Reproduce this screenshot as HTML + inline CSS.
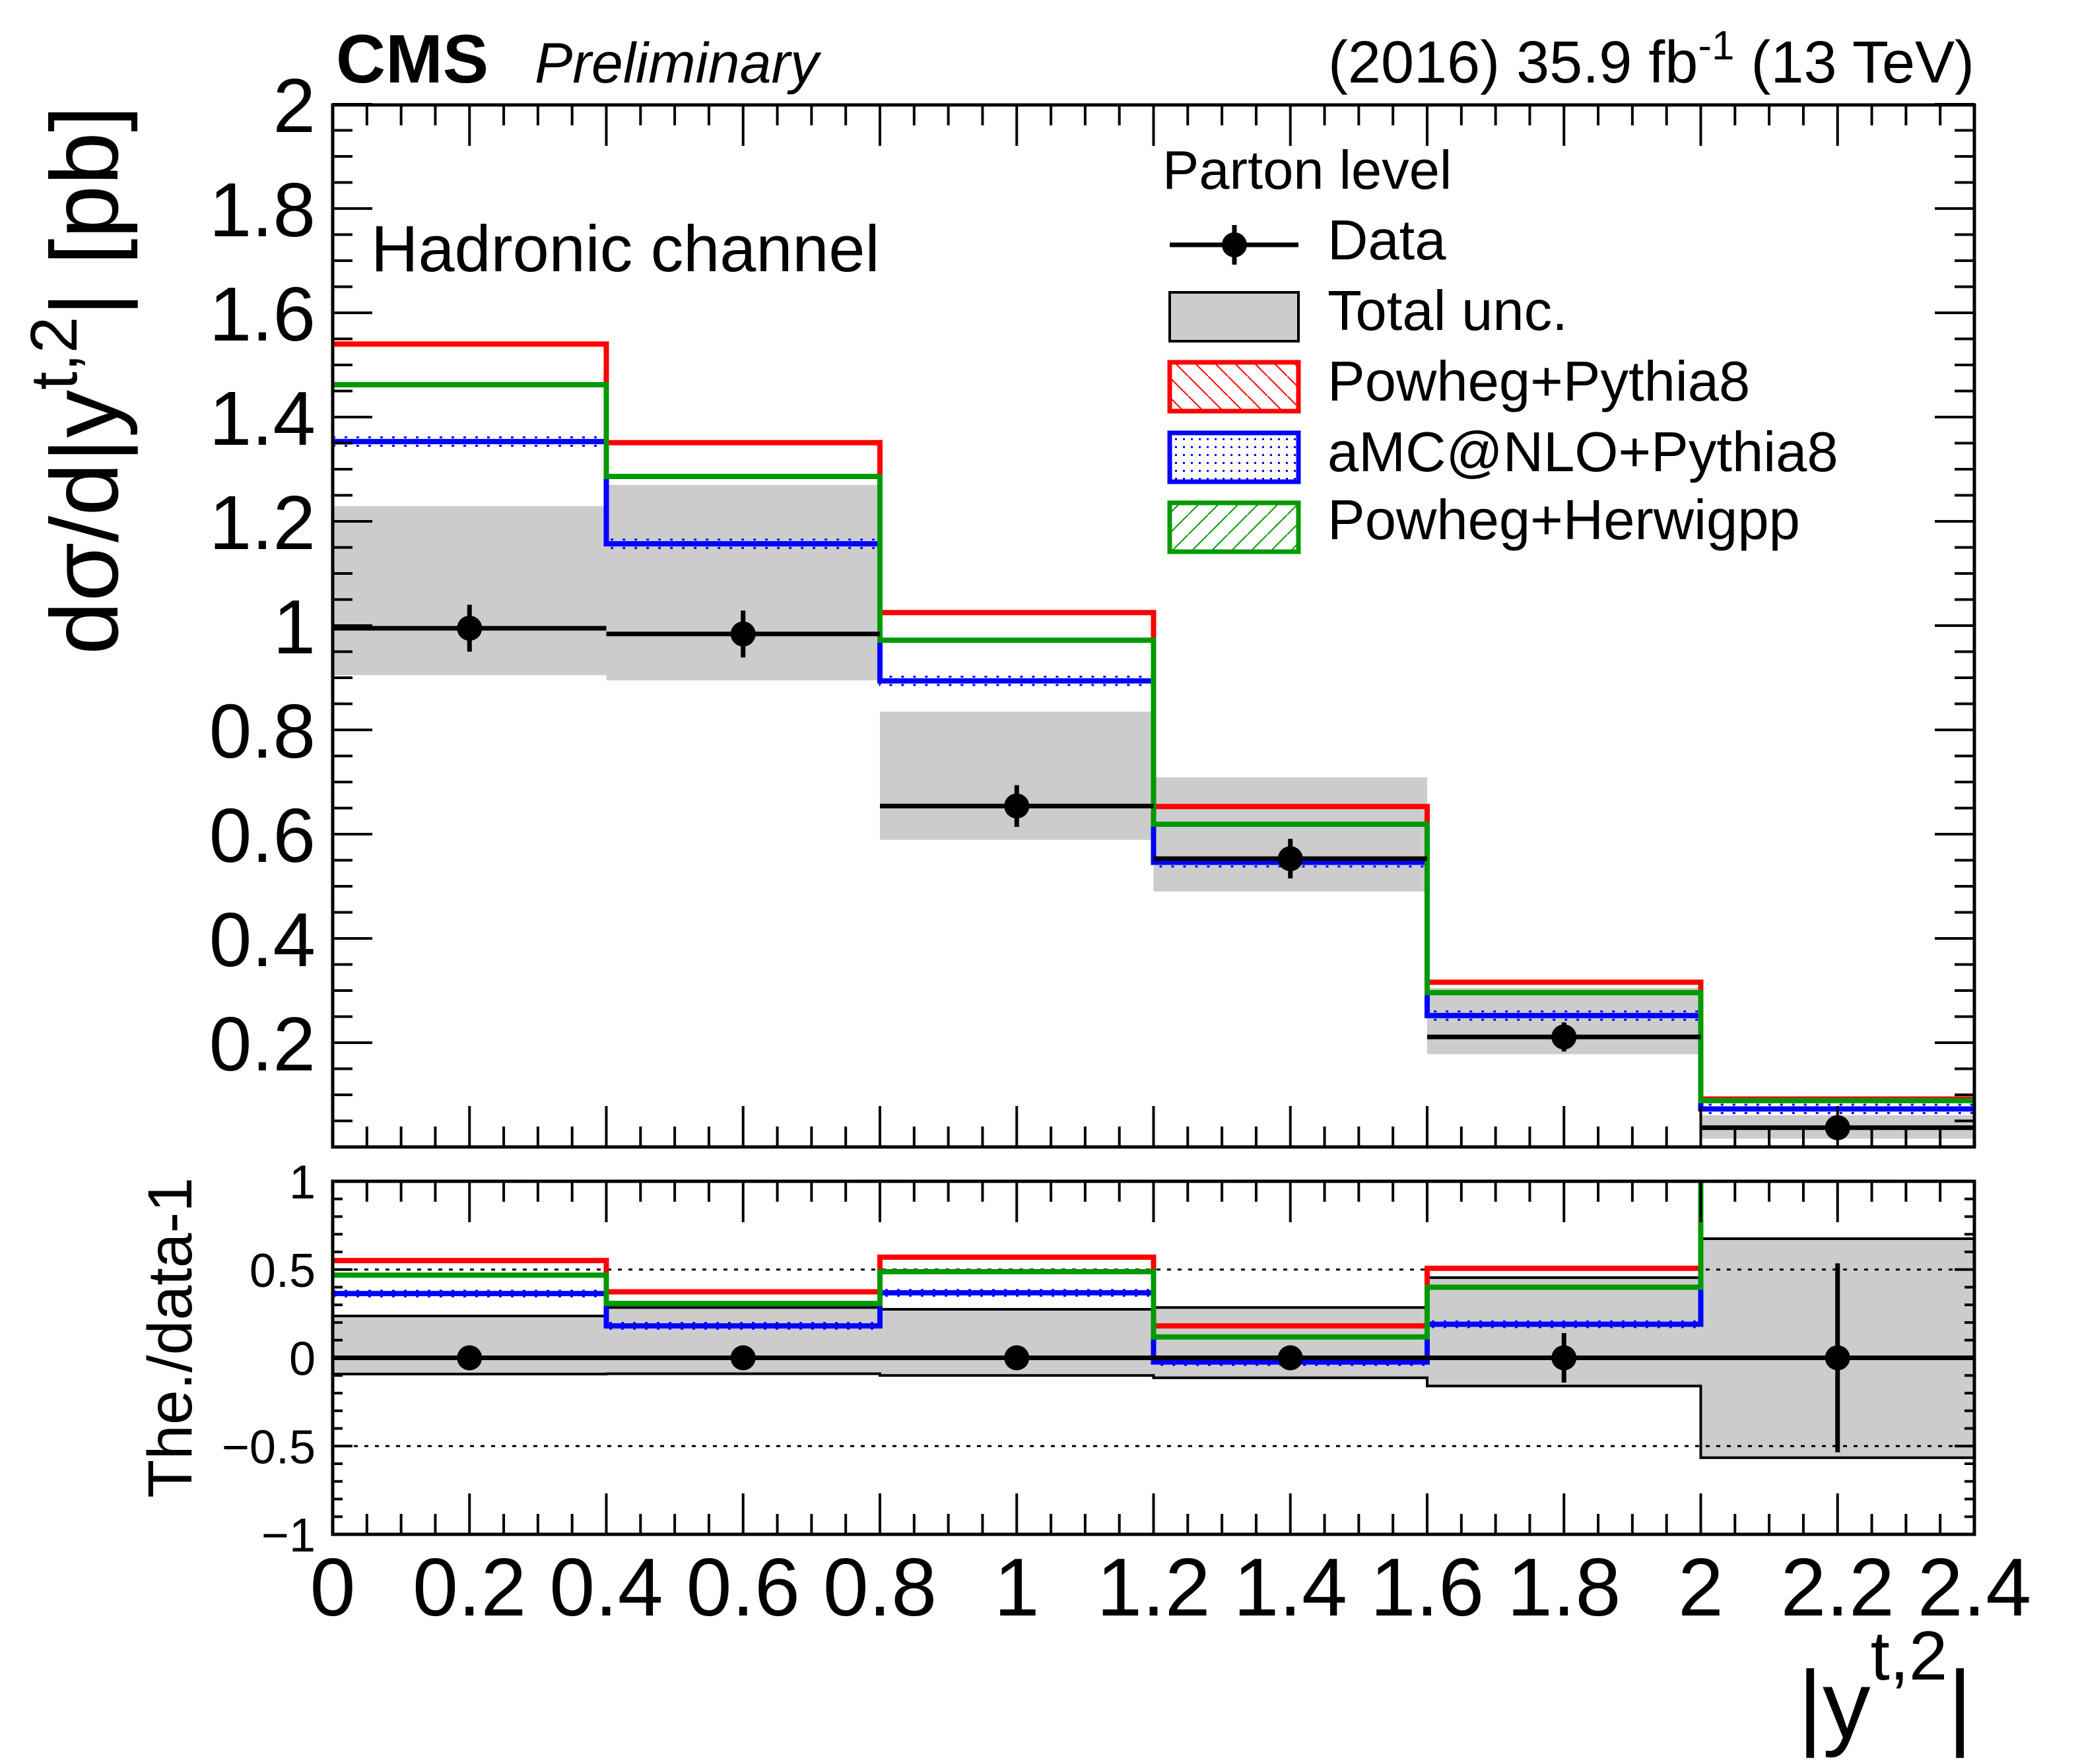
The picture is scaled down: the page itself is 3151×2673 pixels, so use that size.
<!DOCTYPE html>
<html><head><meta charset="utf-8"><style>
html,body{margin:0;padding:0;background:#fff;}
svg{display:block;font-family:"Liberation Sans",Arial,sans-serif;}
</style></head><body>
<svg id="c" xmlns="http://www.w3.org/2000/svg" width="3151" height="2673" viewBox="0 0 3151 2673">
<defs>
<clipPath id="clipTop"><rect x="504" y="159" width="2487" height="1579"/></clipPath>
<clipPath id="clipBot"><rect x="504" y="1790" width="2487" height="535"/></clipPath>
<pattern id="hatchRed" patternUnits="userSpaceOnUse" width="30" height="30"><path d="M0,0 L30,30" stroke="#ff0000" stroke-width="2"/></pattern>
<pattern id="hatchGreen" patternUnits="userSpaceOnUse" width="30" height="30"><path d="M0,30 L30,0" stroke="#009900" stroke-width="2"/></pattern>
<pattern id="dotBlue" patternUnits="userSpaceOnUse" width="12" height="12"><rect x="4" y="4" width="3" height="3" fill="#0000ff"/></pattern>
</defs>
<g id="g-top"></g>
<g id="g-bot"></g>
<g id="g-ax"></g>
<text x="509" y="125" font-size="104" font-weight="bold">CMS</text>
<text x="810" y="125" font-size="86" font-style="italic">Preliminary</text>
<text x="2991" y="125" font-size="90" text-anchor="end">(2016) 35.9 fb<tspan dy="-35" font-size="62">-1</tspan><tspan dy="35"> (13 TeV)</tspan></text>
<text x="562" y="411" font-size="99">Hadronic channel</text>
<text transform="translate(178,576) rotate(-90)" font-size="145" text-anchor="middle">dσ/d|y<tspan dy="-62" font-size="100">t,2</tspan><tspan dy="62">| [pb]</tspan></text>
<text transform="translate(290,2027) rotate(-90)" font-size="95" text-anchor="middle">The./data-1</text>
<text x="2988" y="2633" font-size="145" text-anchor="end">|y<tspan dy="-88" font-size="105">t,2</tspan><tspan dy="88">|</tspan></text>
<g>
<text x="1761" y="286" font-size="83">Parton level</text>
<g>
<line x1="1772" y1="371" x2="1967" y2="371" stroke="#000" stroke-width="7"/>
<line x1="1870" y1="341" x2="1870" y2="401" stroke="#000" stroke-width="7"/>
<circle cx="1870" cy="371" r="19" fill="#000"/>
<text x="2011" y="393" font-size="85">Data</text></g>
<g>
<rect x="1772" y="443" width="195" height="74" fill="#cccccc" stroke="#000" stroke-width="4"/>
<text x="2011" y="500" font-size="85">Total unc.</text></g>
<g>
<rect x="1772" y="549" width="195" height="74" fill="url(#hatchRed)" stroke="#ff0000" stroke-width="7"/>
<text x="2011" y="607" font-size="85">Powheg+Pythia8</text></g>
<g>
<rect x="1772" y="656" width="195" height="74" fill="url(#dotBlue)" stroke="#0000ff" stroke-width="7"/>
<text x="2011" y="714" font-size="85">aMC@NLO+Pythia8</text></g>
<g>
<rect x="1772" y="762" width="195" height="74" fill="url(#hatchGreen)" stroke="#009900" stroke-width="7"/>
<text x="2011" y="817" font-size="85">Powheg+Herwigpp</text></g>
</g>
</svg>
<script>
// ---- data ----
const edges = [0, 0.4, 0.8, 1.2, 1.6, 2.0, 2.4];
const dataVals = [0.995, 0.984, 0.654, 0.553, 0.211, 0.037];
const dataErr = [0.045, 0.045, 0.04, 0.038, 0.028, 0.02];
const uncLo = [0.905, 0.895, 0.589, 0.49, 0.178, 0.016];
const uncHi = [1.229, 1.27, 0.835, 0.709, 0.305, 0.061];
const powhegPythia = [1.54, 1.351, 1.025, 0.653, 0.316, 0.092];
const amcPythia = [1.353, 1.157, 0.894, 0.546, 0.252, 0.073];
const powhegHerwig = [1.462, 1.286, 0.972, 0.619, 0.296, 0.089];
const ratioPowhegPythia = [0.551, 0.374, 0.57, 0.181, 0.507, 1.5];
const ratioAmc = [0.364, 0.181, 0.368, -0.024, 0.19, 1.2];
const ratioPowhegHerwig = [0.468, 0.308, 0.488, 0.118, 0.40, 1.4];
const ratioUncLo = [-0.092, -0.09, -0.10, -0.113, -0.16, -0.566];
const ratioUncHi = [0.237, 0.285, 0.275, 0.285, 0.454, 0.675];
const ratioData = [0, 0, 0, 0, 0, 0];
const ratioErr = [0.03, 0.03, 0.03, 0.03, 0.14, 0.535];
const yTickLabels = ["0.2","0.4","0.6","0.8","1","1.2","1.4","1.6","1.8","2"];
const ratioTickLabels = ["1","0.5","0","\u22120.5","\u22121"];
const xTickLabels = ["0","0.2","0.4","0.6","0.8","1","1.2","1.4","1.6","1.8","2","2.2","2.4"];

const NS = "http://www.w3.org/2000/svg";
const X0 = 504, X1 = 2991;
const xs = v => X0 + (v - 0) / 2.4 * (X1 - X0);
const yTop = v => 1738 - v * 790;
const yBot = v => 2057.5 - v * 267.5;
function mk(tag, attrs, parent) {
  const e = document.createElementNS(NS, tag);
  for (const k in attrs) e.setAttribute(k, attrs[k]);
  parent.appendChild(e);
  return e;
}
const gTop = document.getElementById('g-top');
const gBot = document.getElementById('g-bot');
const gAx = document.getElementById('g-ax');
const cTop = mk('g', {'clip-path': 'url(#clipTop)'}, gTop);
const cBot = mk('g', {'clip-path': 'url(#clipBot)'}, gBot);

function stepPath(vals, yf) {
  let d = 'M' + xs(edges[0]) + ',' + yf(vals[0]);
  for (let i = 0; i < vals.length; i++) {
    if (i > 0) d += ' V' + yf(vals[i]);
    d += ' H' + xs(edges[i + 1]);
  }
  return d;
}
function drawPanel(g, yf, lo, hi, models, dv, de, outline, isTop) {
  for (let i = 0; i < lo.length; i++) {
    const r = mk('rect', {x: xs(edges[i]), y: yf(hi[i]), width: xs(edges[i+1]) - xs(edges[i]), height: yf(lo[i]) - yf(hi[i]), fill: '#cccccc'}, g);
    
    
  }
  if (outline) {
    const p1 = mk('path', {d: stepPath(hi, yf), fill: 'none', stroke: '#000', 'stroke-width': 4}, g);
    
    
    const p2 = mk('path', {d: stepPath(lo, yf), fill: 'none', stroke: '#000', 'stroke-width': 4}, g);
    
    
  }
  if (!isTop) {
    for (const v of [0.5, -0.5]) {
      const l = mk('line', {x1: X0, x2: X1, y1: yf(v), y2: yf(v), stroke: '#000', 'stroke-width': 3, 'stroke-dasharray': '6 10'}, g);
      
      
    }
  }
  for (const m of models) {
    if (m.dots) {
      for (const off of [0.008, -0.008]) {
        const shifted = m.vals.map(v => v + off * (isTop ? 1 : 2));
        const dp = mk('path', {d: stepPath(shifted, yf), fill: 'none', stroke: m.color, 'stroke-width': 3, 'stroke-dasharray': '4 14'}, g);
        
        
      }
    }
    const p = mk('path', {d: stepPath(m.vals, yf), fill: 'none', stroke: m.color, 'stroke-width': 8}, g);
    
    
  }
  for (let i = 0; i < dv.length; i++) {
    const cx = xs((edges[i] + edges[i+1]) / 2);
    const l = mk('line', {x1: xs(edges[i]), x2: xs(edges[i+1]), y1: yf(dv[i]), y2: yf(dv[i]), stroke: '#000', 'stroke-width': 7}, g);
    
    
    const e = mk('line', {x1: cx, x2: cx, y1: yf(dv[i] + de[i]), y2: yf(dv[i] - de[i]), stroke: '#000', 'stroke-width': 7}, g);
    
    
    const c = mk('circle', {cx: cx, cy: yf(dv[i]), r: 19, fill: '#000'}, g);
    
    
  }
}
drawPanel(cTop, yTop, uncLo, uncHi, [
  {vals: powhegPythia, color: '#ff0000', name: 'powheg-pythia8-hist'},
  {vals: amcPythia, color: '#0000ff', name: 'amcnlo-pythia8-hist', dots: true},
  {vals: powhegHerwig, color: '#009900', name: 'powheg-herwigpp-hist'}
], dataVals, dataErr, false, true);
drawPanel(cBot, yBot, ratioUncLo, ratioUncHi, [
  {vals: ratioPowhegPythia, color: '#ff0000', name: 'ratio-powheg-pythia8'},
  {vals: ratioAmc, color: '#0000ff', name: 'ratio-amcnlo-pythia8', dots: true},
  {vals: ratioPowhegHerwig, color: '#009900', name: 'ratio-powheg-herwigpp'}
], ratioData, ratioErr, true, false);

// frames
const f1 = mk('rect', {x: X0, y: 159, width: X1 - X0, height: 1579, fill: 'none', stroke: '#000', 'stroke-width': 5}, gAx);


const f2 = mk('rect', {x: X0, y: 1790, width: X1 - X0, height: 535, fill: 'none', stroke: '#000', 'stroke-width': 5}, gAx);



function xTicks(top, bot) {
  for (let i = 0; i <= 48; i++) {
    const x = xs(i * 0.05);
    const L = (i % 4 === 0) ? 62 : 31;
    const a = mk('line', {x1: x, x2: x, y1: bot, y2: bot - L, stroke: '#000', 'stroke-width': 4}, gAx);
    
    
    const b = mk('line', {x1: x, x2: x, y1: top, y2: top + L, stroke: '#000', 'stroke-width': 4}, gAx);
    
    
  }
}
xTicks(159, 1738);
xTicks(1790, 2325);
for (let i = 0; i <= 40; i++) {
  const y = yTop(i * 0.05);
  const L = (i % 4 === 0) ? 60 : 30;
  const a = mk('line', {x1: X0, x2: X0 + L, y1: y, y2: y, stroke: '#000', 'stroke-width': 4}, gAx);
  
  
  const b = mk('line', {x1: X1, x2: X1 - L, y1: y, y2: y, stroke: '#000', 'stroke-width': 4}, gAx);
  
  
}
for (let i = 0; i <= 20; i++) {
  const y = yBot(-1 + i * 0.1);
  const L = (i % 5 === 0) ? 30 : 15;
  const a = mk('line', {x1: X0, x2: X0 + L, y1: y, y2: y, stroke: '#000', 'stroke-width': 4}, gAx);
  
  
  const b = mk('line', {x1: X1, x2: X1 - L, y1: y, y2: y, stroke: '#000', 'stroke-width': 4}, gAx);
  
  
}
yTickLabels.forEach((t, i) => {
  const el = mk('text', {x: 478, y: yTop((i + 1) * 0.2) + 42, 'font-size': 116, 'text-anchor': 'end'}, gAx);
  el.textContent = t;
  
  
});
ratioTickLabels.forEach((t, i) => {
  const el = mk('text', {x: 478, y: yBot(1 - i * 0.5) + 26, 'font-size': 72, 'text-anchor': 'end'}, gAx);
  el.textContent = t;
  
  
});
xTickLabels.forEach((t, i) => {
  const el = mk('text', {x: xs(i * 0.2), y: 2448, 'font-size': 124, 'text-anchor': 'middle'}, gAx);
  el.textContent = t;
  
  
});
</script>
</body></html>
